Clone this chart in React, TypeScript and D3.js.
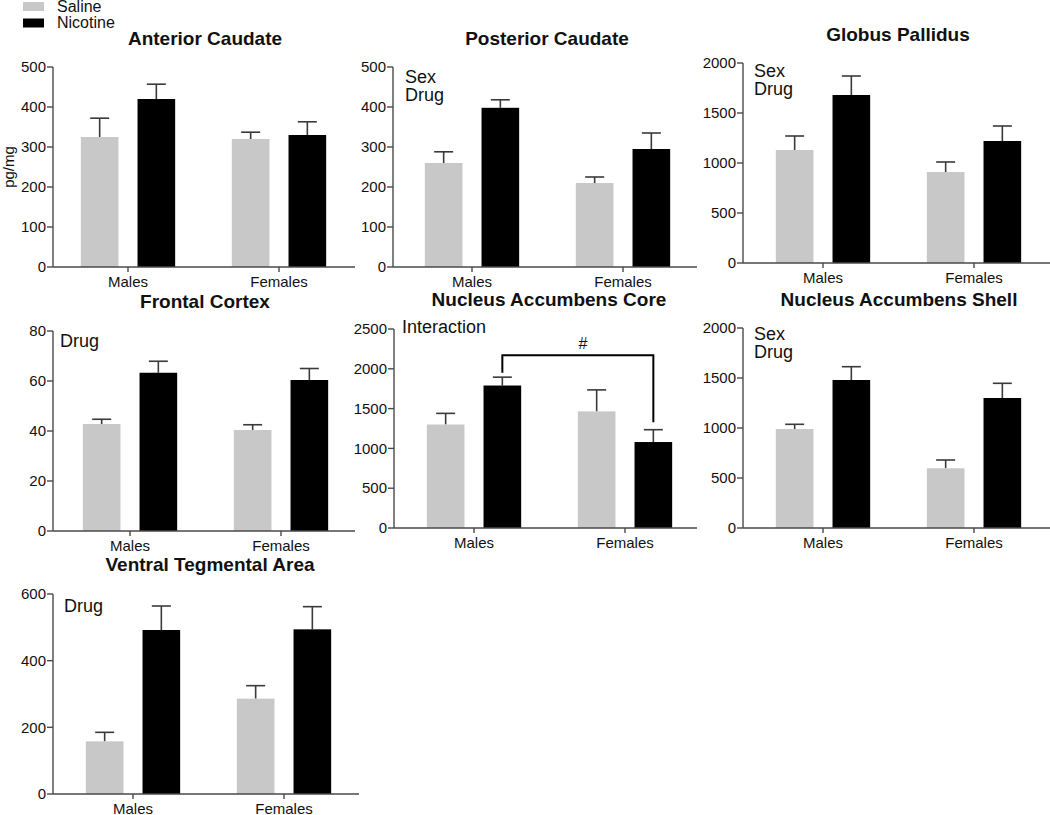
import React from "react";
import * as d3 from "d3";

// ---------- data ----------
const groups = ["Males", "Females"];
const series = ["Saline", "Nicotine"];
const regionNames = [
  "Anterior Caudate",
  "Posterior Caudate",
  "Globus Pallidus",
  "Frontal Cortex",
  "Nucleus Accumbens Core",
  "Nucleus Accumbens Shell",
  "Ventral Tegmental Area",
];
// means [Males, Females]
const salineMean = [
  [325, 320],
  [260, 210],
  [1130, 910],
  [42.8, 40.4],
  [1300, 1465],
  [990, 597],
  [158, 286],
];
const salineSem = [
  [47, 17],
  [28, 15],
  [140, 100],
  [1.9, 2.1],
  [140, 270],
  [47, 83],
  [27, 39],
];
const nicotineMean = [
  [420, 330],
  [398, 295],
  [1680, 1220],
  [63.3, 60.4],
  [1790, 1080],
  [1480, 1300],
  [492, 494],
];
const nicotineSem = [
  [37, 33],
  [20, 40],
  [190, 150],
  [4.6, 4.6],
  [105, 155],
  [133, 147],
  [72, 68],
];
const yMax = [500, 500, 2000, 80, 2500, 2000, 600];
const yTicks = [
  [0, 100, 200, 300, 400, 500],
  [0, 100, 200, 300, 400, 500],
  [0, 500, 1000, 1500, 2000],
  [0, 20, 40, 60, 80],
  [0, 500, 1000, 1500, 2000, 2500],
  [0, 500, 1000, 1500, 2000],
  [0, 200, 400, 600],
];
const effects = [[], ["Sex", "Drug"], ["Sex", "Drug"], ["Drug"], ["Interaction"], ["Sex", "Drug"], ["Drug"]];
// significance bracket on NAc core: [bracket level, left leg end, right leg end]
const bracketValues = [2170, 1950, 1330];

// ---------- layout ----------
const layout = [
  { axisX: 53, bandStart: 52.5, yTop: 67, yZero: 267, axisEnd: 355, titleX: 205, titleY: 44.5, annX: 65, annY: 0 },
  { axisX: 393, bandStart: 396.5, yTop: 67, yZero: 267, axisEnd: 697, titleX: 547, titleY: 44.5, annX: 405, annY: 83 },
  { axisX: 743, bandStart: 747.5, yTop: 63, yZero: 263, axisEnd: 1050, titleX: 898, titleY: 41, annX: 754, annY: 77 },
  { axisX: 53, bandStart: 54.5, yTop: 331, yZero: 531, axisEnd: 355, titleX: 205, titleY: 308, annX: 60, annY: 347 },
  { axisX: 394, bandStart: 398.5, yTop: 329, yZero: 528, axisEnd: 697, titleX: 549, titleY: 306, annX: 402, annY: 333 },
  { axisX: 743, bandStart: 747.5, yTop: 328, yZero: 528, axisEnd: 1050, titleX: 899, titleY: 306, annX: 754, annY: 340 },
  { axisX: 53, bandStart: 57.5, yTop: 594, yZero: 794, axisEnd: 359, titleX: 210, titleY: 571, annX: 64, annY: 612 },
];

const SALINE = "#c8c8c8";
const NICOTINE = "#000000";
const AXIS = "#4a4a4a";
const FONT = "'Liberation Sans', Arial, Helvetica, sans-serif";

function Panel({ i }: { i: number }) {
  const L = layout[i];
  const x = d3.scaleBand<string>().domain(groups).range([L.bandStart, L.bandStart + 302]).padding(0);
  const xs = d3.scaleBand<string>().domain(series).range([0, x.bandwidth()]).paddingInner(0.336).paddingOuter(0.5);
  const y = d3.scaleLinear().domain([0, yMax[i]]).range([L.yZero, L.yTop]);
  const means = [salineMean[i], nicotineMean[i]];
  const sems = [salineSem[i], nicotineSem[i]];
  const colors = [SALINE, NICOTINE];
  const bw = xs.bandwidth();
  const cap = 19;

  const bars: React.ReactNode[] = [];
  groups.forEach((g, gi) => {
    series.forEach((s, si) => {
      const bx = (x(g) as number) + (xs(s) as number);
      const m = means[si][gi];
      const e = sems[si][gi];
      const cx = bx + bw / 2;
      bars.push(
        <g key={g + s}>
          <line x1={cx} x2={cx} y1={y(m)} y2={y(m + e)} stroke="#3a3a3a" strokeWidth={1.6} />
          <line x1={cx - cap / 2} x2={cx + cap / 2} y1={y(m + e)} y2={y(m + e)} stroke="#3a3a3a" strokeWidth={1.6} />
          <rect x={bx} y={y(m)} width={bw} height={L.yZero - y(m)} fill={colors[si]} />
        </g>
      );
    });
  });

  let bracket: React.ReactNode = null;
  if (i === 4) {
    const lx = (x("Males") as number) + (xs("Nicotine") as number) + bw / 2;
    const rx = (x("Females") as number) + (xs("Nicotine") as number) + bw / 2;
    const path = d3.path();
    path.moveTo(lx, y(bracketValues[1]));
    path.lineTo(lx, y(bracketValues[0]));
    path.lineTo(rx, y(bracketValues[0]));
    path.lineTo(rx, y(bracketValues[2]));
    bracket = (
      <g>
        <path d={path.toString()} fill="none" stroke="#000" strokeWidth={2} />
        <text x={(lx + rx) / 2 + 5} y={y(bracketValues[0]) - 6} textAnchor="middle" fontSize={16} fontFamily={FONT} fill="#111">
          #
        </text>
      </g>
    );
  }

  return (
    <g>
      <text x={L.titleX} y={L.titleY} textAnchor="middle" fontSize={19} fontWeight="bold" fontFamily={FONT} fill="#111">
        {regionNames[i]}
      </text>
      {effects[i].map((t, k) => (
        <text key={t} x={L.annX} y={L.annY + k * 17.5} fontSize={18} fontFamily={FONT} fill="#111">
          {t}
        </text>
      ))}
      {bars}
      {bracket}
      {/* y axis */}
      <line x1={L.axisX} x2={L.axisX} y1={L.yTop} y2={L.yZero} stroke={AXIS} strokeWidth={1.4} />
      {yTicks[i].map((t) => (
        <g key={t}>
          <line x1={L.axisX - 6} x2={L.axisX} y1={y(t)} y2={y(t)} stroke={AXIS} strokeWidth={1.4} />
          <text x={L.axisX - 7} y={y(t)} dy="0.35em" textAnchor="end" fontSize={15} fontFamily={FONT} fill="#111">
            {t}
          </text>
        </g>
      ))}
      {/* x axis */}
      <line x1={L.axisX} x2={L.axisEnd} y1={L.yZero} y2={L.yZero} stroke={AXIS} strokeWidth={1.4} />
      {groups.map((g) => {
        const cx = (x(g) as number) + x.bandwidth() / 2;
        return (
          <g key={g}>
            <line x1={cx} x2={cx} y1={L.yZero} y2={L.yZero + 5} stroke={AXIS} strokeWidth={1.4} />
            <text x={cx} y={L.yZero + 20} textAnchor="middle" fontSize={15} fontFamily={FONT} fill="#111">
              {g}
            </text>
          </g>
        );
      })}
    </g>
  );
}

export default function App() {
  const legendColors = [SALINE, NICOTINE];
  return (
    <svg
      width={1050}
      height={815}
      style={{ position: "absolute", left: 0, top: 0, background: "#fff" }}
      xmlns="http://www.w3.org/2000/svg"
    >
      <rect x={0} y={0} width={1050} height={815} fill="#fff" />
      {series.map((s, k) => (
        <g key={s}>
          <rect x={23} y={2 + k * 16.5} width={21} height={9} fill={legendColors[k]} />
          <text x={57} y={11.5 + k * 16.5} fontSize={16} fontFamily={FONT} fill="#111">
            {s}
          </text>
        </g>
      ))}
      <text
        transform="translate(13.5,167) rotate(-90)"
        textAnchor="middle"
        fontSize={15}
        fontFamily={FONT}
        fill="#111"
      >
        pg/mg
      </text>
      {regionNames.map((_, i) => (
        <Panel key={i} i={i} />
      ))}
    </svg>
  );
}
